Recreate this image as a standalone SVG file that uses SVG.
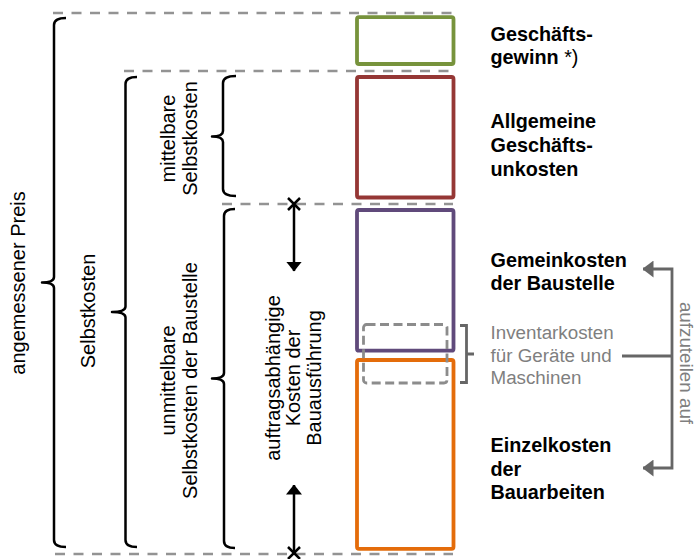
<svg xmlns="http://www.w3.org/2000/svg" width="698" height="559" viewBox="0 0 698 559">
  <style>
    text { font-family: "Liberation Sans", Arial, sans-serif; }
    .lbl { font-size: 20px; fill: #000; text-anchor: middle; }
    .bold { font-size: 19.8px; font-weight: bold; fill: #000; }
    .note { font-size: 18.8px; fill: #7f7f7f; }
    .guide { fill: none; stroke: #939393; stroke-width: 2.7; stroke-dasharray: 10 8.5; }
    .brace { fill: none; stroke: #000; stroke-width: 2.5; stroke-linejoin: round; }
    .box { fill: none; stroke-width: 3.8; }
    .cross { stroke: #000; stroke-width: 2.5; }
    .span { stroke: #000; stroke-width: 2.5; fill: none; }
    .alloc { fill: none; stroke: #666; stroke-width: 2.8; }
  </style>
  <defs>
    <marker id="headBlack" viewBox="0 0 10 16" refX="9.5" refY="8" markerWidth="10" markerHeight="16" markerUnits="userSpaceOnUse" orient="auto">
      <path d="M0,0 L10,8 L0,16 Z" fill="#000"/>
    </marker>
    <marker id="headGray" viewBox="0 0 11 17" refX="10.5" refY="8.5" markerWidth="11" markerHeight="17" markerUnits="userSpaceOnUse" orient="auto-start-reverse">
      <path d="M0,0 L11,8.5 L0,17 Z" fill="#666"/>
    </marker>
  </defs>

  <!-- horizontal level guides -->
  <g id="guides">
    <line class="guide" x1="53" y1="13" x2="453" y2="13"/>
    <line class="guide" x1="124" y1="71" x2="453" y2="71"/>
    <line class="guide" x1="222" y1="204" x2="453" y2="204"/>
    <line class="guide" x1="55" y1="554" x2="453" y2="554"/>
  </g>

  <!-- cost blocks -->
  <g id="block-gewinn"><rect class="box" x="357" y="17.2" width="96.5" height="46.8" rx="2" stroke="#77933c"/></g>
  <g id="block-agk"><rect class="box" x="357" y="77" width="96.5" height="120.5" rx="2" stroke="#953735"/></g>
  <g id="block-gemein"><rect class="box" x="357" y="210" width="96.5" height="140.7" rx="2" stroke="#604a7b"/></g>
  <g id="block-einzel"><rect class="box" x="357" y="360" width="96.5" height="188.8" rx="2" stroke="#e46c0a"/></g>
  <g id="block-inventar"><rect x="363.5" y="324.5" width="83.5" height="58.5" rx="3" fill="none" stroke="#8c8c8c" stroke-width="2.8" stroke-dasharray="9 4.5"/></g>

  <!-- braces and labels on the left -->
  <g id="preis">
    <path class="brace" d="M66,18 Q54,18 54,25 L54,277 Q54,282.5 42,282.5 Q54,282.5 54,288 L54,540 Q54,547 66,547"/>
    <text class="lbl" transform="translate(25,283) rotate(-90)">angemessener Preis</text>
  </g>
  <g id="selbstkosten">
    <path class="brace" d="M137,77 Q125.5,77 125.5,84 L125.5,306.5 Q125.5,312 112,312 Q125.5,312 125.5,317.5 L125.5,540 Q125.5,547 137,547"/>
    <text class="lbl" transform="translate(95,311) rotate(-90)">Selbstkosten</text>
  </g>
  <g id="mittelbar">
    <path class="brace" d="M236,76 Q223,76 223,83 L223,131 Q223,136.5 212,136.5 Q223,136.5 223,142 L223,189 Q223,196 236,196"/>
    <text class="lbl" transform="translate(174.5,138.5) rotate(-90)"><tspan x="0" y="0">mittelbare</tspan><tspan x="0" y="22">Selbstkosten</tspan></text>
  </g>
  <g id="unmittelbar">
    <path class="brace" d="M235,209 Q224,209 224,216 L224,373 Q224,378.5 212,378.5 Q224,378.5 224,384 L224,541 Q224,548 235,548"/>
    <text class="lbl" transform="translate(174.5,380.5) rotate(-90)"><tspan x="0" y="0">unmittelbare</tspan><tspan x="0" y="22.5">Selbstkosten der Baustelle</tspan></text>
  </g>
  <g id="auftrag">
    <text class="lbl" transform="translate(279.5,378) rotate(-90)"><tspan x="0" y="0">auftragsabhängige</tspan><tspan x="0" y="20.5">Kosten der</tspan><tspan x="0" y="41">Bauausführung</tspan></text>
  </g>

  <!-- labels on the right -->
  <g id="lbl-gewinn">
    <text class="bold" x="490.5" y="40.5">Geschäfts-</text>
    <text class="bold" x="490.5" y="64">gewinn <tspan font-weight="normal">*)</tspan></text>
  </g>
  <g id="lbl-agk">
    <text class="bold" x="490.5" y="127.7">Allgemeine</text>
    <text class="bold" x="490.5" y="151.5">Geschäfts-</text>
    <text class="bold" x="490.5" y="175.5">unkosten</text>
  </g>
  <g id="lbl-gemein">
    <text class="bold" x="490.5" y="266.5">Gemeinkosten</text>
    <text class="bold" x="490.5" y="289.5">der Baustelle</text>
  </g>
  <g id="lbl-einzel">
    <text class="bold" x="490.5" y="452">Einzelkosten</text>
    <text class="bold" x="490.5" y="475.5">der</text>
    <text class="bold" x="490.5" y="499">Bauarbeiten</text>
  </g>
  <g id="lbl-inventar">
    <path class="alloc" d="M460,325.5 H466.5 V382.5 H460 M466.5,354 H474" stroke-width="2.4"/>
    <text class="note" x="490.5" y="339">Inventarkosten</text>
    <text class="note" x="490.5" y="361.7">für Geräte und</text>
    <text class="note" x="490.5" y="384.3">Maschinen</text>
  </g>
  <g id="lbl-aufteilen">
    <text class="note" transform="translate(680,363) rotate(90)" text-anchor="middle" font-size="19.5">aufzuteilen auf</text>
  </g>

  <!-- connectors -->
  <g id="connectors">
    <path class="cross" d="M288,198 L300,210 M300,198 L288,210"/>
    <line class="span" x1="294" y1="204" x2="294" y2="271" marker-end="url(#headBlack)"/>
    <path class="cross" d="M288,547 L300,559 M300,547 L288,559"/>
    <line class="span" x1="294" y1="553" x2="294" y2="485" marker-end="url(#headBlack)"/>
    <path class="alloc" d="M643,269 H672 V468 H643" marker-start="url(#headGray)" marker-end="url(#headGray)"/>
    <path class="alloc" d="M622,356 H672"/>
  </g>
</svg>
